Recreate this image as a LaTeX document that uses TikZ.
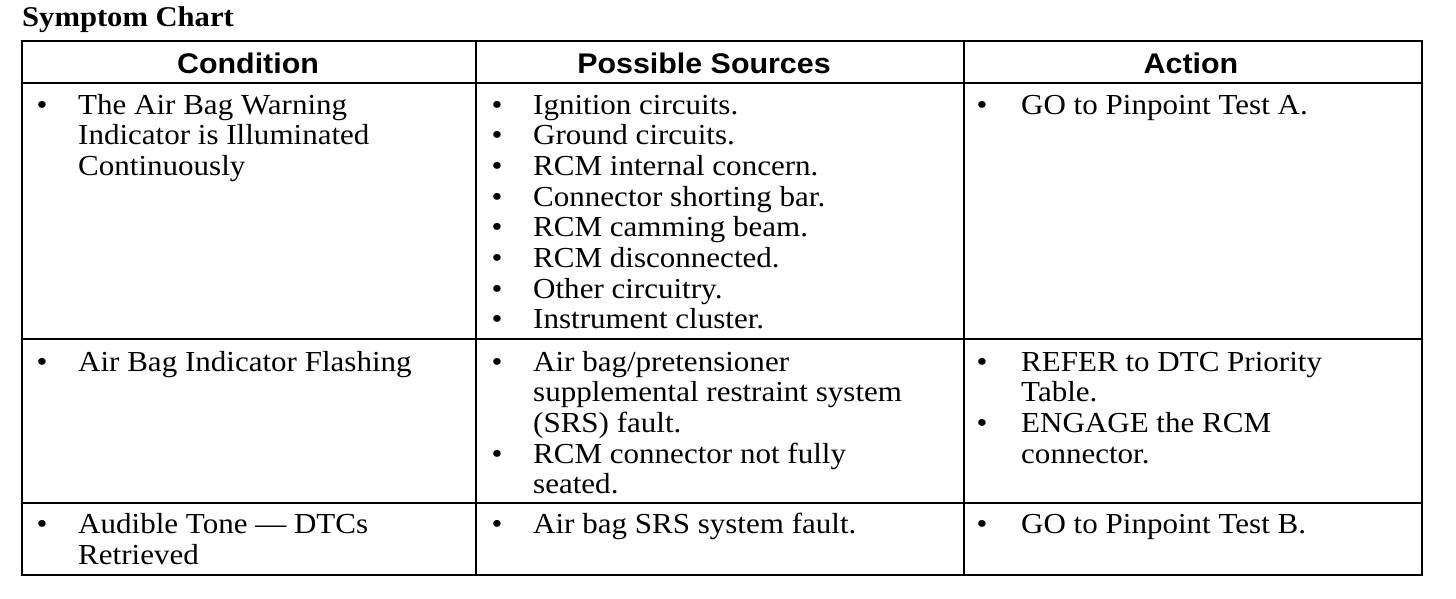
\documentclass[tikz,border=0pt]{standalone}
\usepackage{fontspec}
\setmainfont{Liberation Serif}[FakeStretch=1.07]
\newfontfamily\hdrfont{Liberation Sans}[FakeStretch=1.07]
\begin{document}
\begin{tikzpicture}[x=1pt,y=-1pt,
  grid/.style={line width=2.6pt, line cap=rect},
  txt/.style={anchor=base west, inner sep=0pt, font=\fontsize{29}{31}\selectfont},
  bul/.style={anchor=base, inner sep=0pt, font=\fontsize{29}{31}\selectfont},
  hdr/.style={anchor=base, inner sep=0pt, font=\hdrfont\bfseries\fontsize{28.4}{30}\selectfont},
  ttl/.style={anchor=base west, inner sep=0pt, font=\bfseries\fontsize{28.6}{30}\selectfont}]
\useasboundingbox (0,0) rectangle (1456,598);
% grid
\draw[grid] (22,41) rectangle (1422,575);
\draw[grid] (22,83) -- (1422,83);
\draw[grid] (22,339) -- (1422,339);
\draw[grid] (22,503) -- (1422,503);
\draw[grid] (476,41) -- (476,575);
\draw[grid] (964,41) -- (964,575);
% title
\node[ttl] (title) at (22,26) {Symptom Chart};
% headers
\node[hdr] (h1) at (248,73) {Condition};
\node[hdr] (h2) at (704,73) {Possible Sources};
\node[hdr] (h3) at (1191,73) {Action};
% row 1
\node[bul] (b11) at (42,114) {•};
\node[txt] (a1) at (78,114) {The Air Bag Warning};
\node[txt] (a2) at (78,144.7) {Indicator is Illuminated};
\node[txt] (a3) at (78,175.4) {Continuously};
\node[bul] (b12a) at (497,114) {•};
\node[bul] (b12b) at (497,144.7) {•};
\node[bul] (b12c) at (497,175.4) {•};
\node[bul] (b12d) at (497,206.1) {•};
\node[bul] (b12e) at (497,236.8) {•};
\node[bul] (b12f) at (497,267.5) {•};
\node[bul] (b12g) at (497,298.2) {•};
\node[bul] (b12h) at (497,328.9) {•};
\node[txt] (s1) at (533,114) {Ignition circuits.};
\node[txt] (s2) at (533,144.7) {Ground circuits.};
\node[txt] (s3) at (533,175.4) {RCM internal concern.};
\node[txt] (s4) at (533,206.1) {Connector shorting bar.};
\node[txt] (s5) at (533,236.8) {RCM camming beam.};
\node[txt] (s6) at (533,267.5) {RCM disconnected.};
\node[txt] (s7) at (533,298.2) {Other circuitry.};
\node[txt] (s8) at (533,328.9) {Instrument cluster.};
\node[bul] (b13) at (982,114) {•};
\node[txt] (c1) at (1021,114) {GO to Pinpoint Test A.};
% row 2
\node[bul] (b21) at (42,371) {•};
\node[txt] (d1) at (78,371) {Air Bag Indicator Flashing};
\node[bul] (b22a) at (497,371) {•};
\node[txt] (e1) at (533,371) {Air bag/pretensioner};
\node[txt] (e2) at (533,401.7) {supplemental restraint system};
\node[txt] (e3) at (533,432.4) {(SRS) fault.};
\node[bul] (b22b) at (497,463.1) {•};
\node[txt] (e4) at (533,463.1) {RCM connector not fully};
\node[txt] (e5) at (533,493.8) {seated.};
\node[bul] (b23a) at (982,371) {•};
\node[txt] (f1) at (1021,371) {REFER to DTC Priority};
\node[txt] (f2) at (1021,401.7) {Table.};
\node[bul] (b23b) at (982,432.4) {•};
\node[txt] (f3) at (1021,432.4) {ENGAGE the RCM};
\node[txt] (f4) at (1021,463.1) {connector.};
% row 3
\node[bul] (b31) at (42,533.5) {•};
\node[txt] (g1) at (78,533.5) {Audible Tone --- DTCs};
\node[txt] (g2) at (78,564.2) {Retrieved};
\node[bul] (b32) at (497,533.5) {•};
\node[txt] (h1x) at (533,533.5) {Air bag SRS system fault.};
\node[bul] (b33) at (982,533.5) {•};
\node[txt] (i1) at (1021,533.5) {GO to Pinpoint Test B.};
\end{tikzpicture}
\end{document}
